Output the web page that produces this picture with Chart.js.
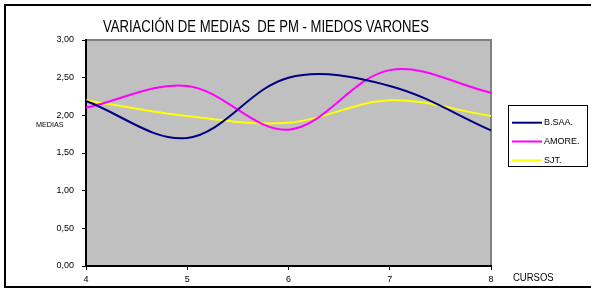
<!DOCTYPE html>
<html>
<head>
<meta charset="utf-8">
<script src="https://cdn.jsdelivr.net/npm/chart.js@4/dist/chart.umd.min.js"></script>
<style>
  html, body { margin: 0; padding: 0; background: #fff; }
  #wrap { width: 591px; height: 290px; position: relative; }
</style>
</head>
<body>
<div id="wrap"><canvas id="chart" width="591" height="290"></canvas></div>
<script>
// Cursos (eje X)
const cursos = ['4', '5', '6', '7', '8'];

// Medias por curso
const bsaa = [2.19, 1.70, 2.50, 2.39, 1.80];
const amore = [2.10, 2.39, 1.81, 2.60, 2.30];
const sjt = [2.20, 1.99, 1.90, 2.20, 1.99];

const seriesNames = ['B.SAA.', 'AMORE.', 'SJT.'];
const seriesColors = ['#000080', '#ff00ff', '#ffff00'];

const titleText = 'VARIACIÓN DE MEDIAS  DE PM - MIEDOS VARONES';
const baseFont = "'Liberation Sans', Arial, sans-serif";

// draw text squeezed horizontally (the original uses a condensed face)
function squeezedText(ctx, text, x, y, size, sx, align) {
  ctx.save();
  ctx.font = size + 'px ' + baseFont;
  ctx.fillStyle = '#000';
  ctx.textBaseline = 'middle';
  const w = ctx.measureText(text).width * sx;
  let left = x;
  if (align === 'center') left = x - w / 2;
  ctx.translate(left, y);
  ctx.scale(sx, 1);
  ctx.textAlign = 'left';
  ctx.fillText(text, 0, 0);
  ctx.restore();
}

const decorPlugin = {
  id: 'decor',
  beforeDraw(chart) {
    const { ctx, chartArea: a } = chart;
    ctx.save();
    ctx.fillStyle = '#fff';
    ctx.fillRect(0, 0, chart.width, chart.height);
    ctx.fillStyle = '#c0c0c0';
    ctx.fillRect(a.left, a.top, a.right - a.left, a.bottom - a.top);
    // gray frame on top and right of the plot area
    ctx.strokeStyle = '#808080';
    ctx.lineWidth = 2;
    ctx.beginPath();
    ctx.moveTo(a.left, a.top);
    ctx.lineTo(a.right, a.top);
    ctx.lineTo(a.right, a.bottom);
    ctx.stroke();
    ctx.restore();
  },
  afterDraw(chart) {
    const { ctx } = chart;
    // title and axis captions
    squeezedText(ctx, titleText, 266, 28, 16, 0.82, 'center');
    squeezedText(ctx, 'MEDIAS', 36, 125, 8, 0.9, 'left');
    squeezedText(ctx, 'CURSOS', 513, 278, 10, 0.95, 'left');

    // legend box
    ctx.save();
    ctx.strokeStyle = '#000';
    ctx.lineWidth = 1;
    ctx.strokeRect(508.5, 105.5, 79, 61);
    const rows = [122.7, 141.5, 160.3];
    chart.data.datasets.forEach((ds, i) => {
      ctx.strokeStyle = ds.borderColor;
      ctx.lineWidth = 2;
      ctx.beginPath();
      ctx.moveTo(512, rows[i]);
      ctx.lineTo(542, rows[i]);
      ctx.stroke();
      ctx.fillStyle = '#000';
      ctx.font = '9px ' + baseFont;
      ctx.textBaseline = 'middle';
      ctx.fillText(ds.label, 544, rows[i]);
    });

    // outer frame
    ctx.strokeStyle = '#000';
    ctx.lineWidth = 2;
    ctx.strokeRect(5, 5, 600, 282);
    ctx.restore();
  }
};

document.addEventListener('DOMContentLoaded', function() {
  const seriesData = [bsaa, amore, sjt];
  new Chart(document.getElementById('chart'), {
    type: 'line',
    data: {
      labels: cursos,
      datasets: seriesData.map((vals, i) => ({
        label: seriesNames[i],
        data: vals,
        borderColor: seriesColors[i],
        backgroundColor: seriesColors[i],
        borderWidth: 2,
        pointRadius: 0,
        tension: 0.35,
        fill: false
      }))
    },
    options: {
      responsive: false,
      animation: false,
      layout: { padding: { top: 40, right: 100, bottom: 0, left: 0 } },
      plugins: {
        legend: { display: false },
        title: { display: false },
        tooltip: { enabled: false }
      },
      scales: {
        x: {
          offset: false,
          afterFit(scale) { scale.height = 24; },
          grid: { drawOnChartArea: false, drawTicks: true, tickLength: 4, color: '#000' },
          border: { display: true, color: '#000', width: 2 },
          ticks: {
            color: '#000',
            padding: 4,
            maxRotation: 0,
            font: { family: baseFont, size: 9 }
          }
        },
        y: {
          min: 0,
          max: 3,
          afterFit(scale) { scale.width = 86; },
          grid: { drawOnChartArea: false, drawTicks: true, tickLength: 4, color: '#000' },
          border: { display: true, color: '#000', width: 2 },
          ticks: {
            stepSize: 0.5,
            color: '#000',
            padding: 8,
            font: { family: baseFont, size: 9 },
            callback: v => v.toFixed(2).replace('.', ',')
          }
        }
      }
    },
    plugins: [decorPlugin]
  });
});
</script>
</body>
</html>
